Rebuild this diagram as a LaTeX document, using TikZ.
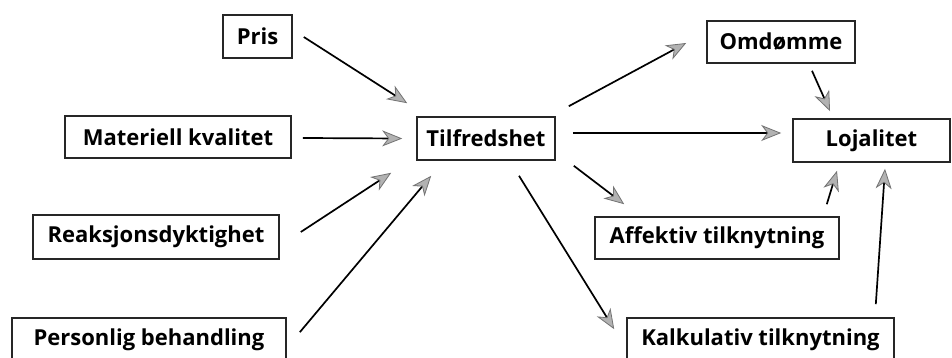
\documentclass[tikz,border=0pt]{standalone}
\usepackage{fontspec}
\setmainfont{Open Sans}
\usetikzlibrary{arrows.meta,calc}
\begin{document}
\begin{tikzpicture}[x=1pt,y=-1pt,
  box/.style={draw=black!85, line width=1.6pt, inner sep=0pt,
    font=\fontsize{22}{26}\selectfont\bfseries},
  arr/.style={line width=1.7pt, black,
    -{Stealth[length=20pt,width=16pt,inset=6pt,color=black!55,fill=black!30,line width=0.8pt]}},
]
\clip (0,0) rectangle (952,358);
\fill[white] (0,0) rectangle (952,358);

% factors on the left
\node[box, minimum width=69pt,  minimum height=43pt] (pris) at (257.5,36.5) {Pris};
\node[box, minimum width=226pt, minimum height=42pt] (mat)  at (178,137)    {Materiell kvalitet};
\node[box, minimum width=246pt, minimum height=44pt] (reak) at (156,237)    {Reaksjonsdyktighet};
\node[box, minimum width=274pt, minimum height=43pt] (pers) at (149,339.5)  {Personlig behandling};

% centre
\node[box, minimum width=138pt, minimum height=43pt] (tilf) at (486,138.5)  {Tilfredshet};

% outcomes on the right
\node[box, minimum width=148pt, minimum height=42pt] (omd)  at (781,42)     {Omdømme};
\node[box, minimum width=157pt, minimum height=43pt] (loj)  at (871.5,140.5){Lojalitet};
\node[box, minimum width=244pt, minimum height=42pt] (aff)  at (717,238)    {Affektiv tilknytning};
\node[box, minimum width=267pt, minimum height=43pt] (kalk) at (760.5,339.5){Kalkulativ tilknytning};

% drivers of satisfaction
\draw[arr] ($(pris.east)+(11,0.5)$) -- ($(tilf.north west)+(-9,-13)$);
\draw[arr] ($(mat.east)+(11,1)$) -- ($(tilf.west)+(-14,0)$);
\draw[arr] ($(reak.east)+(21,-5)$) -- ($(tilf.south west)+(-25,12)$);
\draw[arr] ($(pers.north east)+(13,15)$) -- ($(tilf.south west)+(15,15)$);

% effects of satisfaction
\draw[arr] ($(tilf.north east)+(13,-10)$) -- ($(omd.west)+(-20,1)$);
\draw[arr] ($(tilf.east)+(17,-5.5)$) -- ($(loj.west)+(-11,-7.5)$);
\draw[arr] ($(tilf.south east)+(18,5)$) -- ($(aff.north west)+(30,-12)$);
\draw[arr] ($(tilf.south)+(33,15)$) -- ($(kalk.north west)+(-12,12)$);

% paths into loyalty
\draw[arr] ($(omd.south)+(31,7)$) -- ($(loj.north)+(-41.5,-7)$);
\draw[arr] ($(aff.north east)+(-13,-12)$) -- ($(loj.south)+(-34.5,8)$);
\draw[arr] ($(kalk.north east)+(-19,-13)$) -- ($(loj.south)+(13.5,6)$);
\end{tikzpicture}
\end{document}
